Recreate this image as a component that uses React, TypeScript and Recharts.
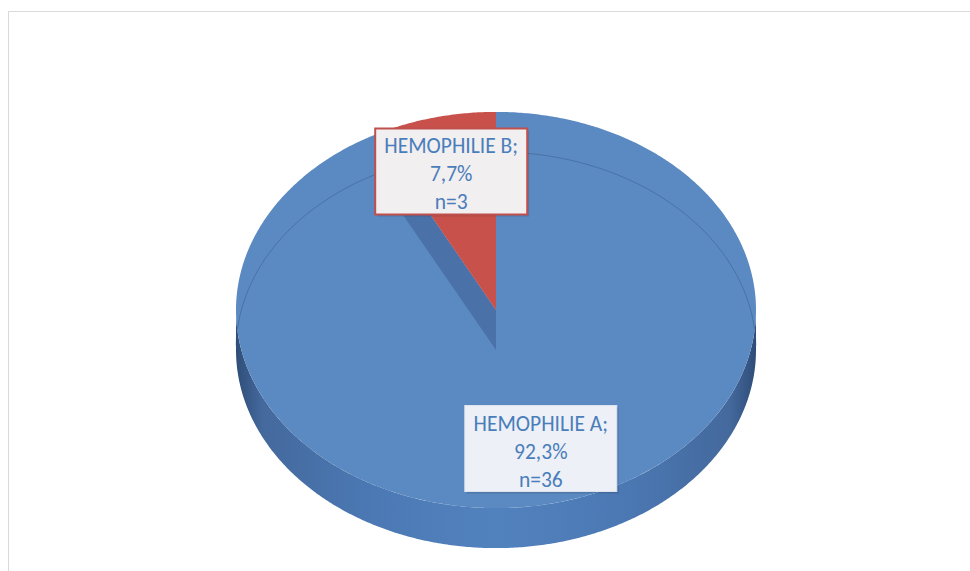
import React from "react";
import { PieChart, Pie, Cell, Tooltip } from "recharts";

// patients per haemophilia type
const categories = ["HEMOPHILIE A", "HEMOPHILIE B"];
const patients = [36, 3];

const TOP_COLORS = ["#5b89c1", "#c8524b"];
const BOX_FILL = ["#edf0f6", "#f2eff1"];
const BOX_STROKE = ["#dce3ee", "#c0504d"];
const TEXT_COLOR = "#4a7ebb";

const data = categories.map((name, i) => ({ name, value: patients[i] }));

// fake 3d: squash the circle into an ellipse and give it some depth
const TILT = 0.762;
const DEPTH = 40;
const RAD = Math.PI / 180;

function pt(cx: number, cy: number, rx: number, ry: number, deg: number) {
  return [cx + rx * Math.cos(deg * RAD), cy - ry * Math.sin(deg * RAD)];
}

function arc(cx: number, cy: number, rx: number, ry: number, a0: number, a1: number) {
  const n = Math.max(2, Math.ceil(Math.abs(a1 - a0) / 0.5));
  const out: number[][] = [];
  for (let k = 0; k <= n; k++) out.push(pt(cx, cy, rx, ry, a0 + ((a1 - a0) * k) / n));
  return out;
}

const poly = (pts: number[][], close = true) =>
  "M" + pts.map((p) => p[0].toFixed(2) + "," + p[1].toFixed(2)).join("L") + (close ? "Z" : "");

// split the sector's angle range into runs where test() holds
function runs(lo: number, hi: number, test: (a: number) => boolean) {
  const res: number[][] = [];
  let cur: number[] | null = null;
  for (let a = lo; a < hi + 0.25; a += 0.5) {
    const aa = Math.min(a, hi);
    if (test(aa)) {
      if (!cur) {
        cur = [aa, aa];
        res.push(cur);
      }
      cur[1] = aa;
    } else cur = null;
  }
  return res;
}

function EllipseSector(props: any) {
  const { cx, cy, outerRadius, startAngle, endAngle, fill } = props;
  const rx = outerRadius;
  const ry = outerRadius * TILT;
  const lo = Math.min(startAngle, endAngle);
  const hi = Math.max(startAngle, endAngle);

  const top = poly([[cx, cy], ...arc(cx, cy, rx, ry, startAngle, endAngle)]);

  // outer wall, only the front half shows
  const walls = runs(lo, hi, (a) => Math.sin(a * RAD) <= 0.0001).map(([a0, a1]) => {
    const upper = arc(cx, cy, rx, ry, a0, a1);
    const lower = arc(cx, cy + DEPTH, rx, ry, a1, a0);
    return poly([...upper, ...lower]);
  });

  // back rim seen through the top
  const rims = runs(lo, hi, (a) => Math.sin(a * RAD) > 0.02).map(([a0, a1]) =>
    poly(arc(cx, cy + DEPTH, rx, ry, a0, a1), false)
  );

  // radial wall at the start edge when it faces us
  const s = startAngle * RAD;
  let cut: string | null = null;
  if (Math.cos(s) < -0.05 && Math.sin(s) > 0) {
    const p = pt(cx, cy, rx, ry, startAngle);
    cut = poly([
      [cx, cy],
      p,
      [p[0], p[1] + DEPTH],
      [cx, cy + DEPTH],
    ]);
  }

  return (
    <g>
      <defs>
        <linearGradient id="pieSide" gradientUnits="userSpaceOnUse" x1={cx - rx} y1={0} x2={cx + rx} y2={0}>
          <stop offset="0%" stopColor="#2f4d78" />
          <stop offset="5%" stopColor="#44699d" />
          <stop offset="25%" stopColor="#4b78b3" />
          <stop offset="50%" stopColor="#5282be" />
          <stop offset="75%" stopColor="#4b78b3" />
          <stop offset="95%" stopColor="#44699d" />
          <stop offset="100%" stopColor="#2f4d78" />
        </linearGradient>
      </defs>
      {walls.map((d, i) => (
        <path key={"w" + i} d={d} fill="url(#pieSide)" />
      ))}
      {cut && <path d={cut} fill="#4a72a8" />}
      <path d={top} fill={fill} />
      {rims.map((d, i) => (
        <path key={"r" + i} d={d} fill="none" stroke="#2d4f7c" strokeOpacity={0.4} strokeWidth={1} />
      ))}
    </g>
  );
}

function renderLabel(props: any) {
  const { cx, cy, midAngle, outerRadius, name, value, percent, index } = props;
  const f = 0.72;
  const [x, y] = pt(cx, cy, outerRadius * f, outerRadius * f * TILT, midAngle);
  const w = 152;
  const h = 86;
  const pct = (percent * 100).toFixed(1).replace(".", ",") + "%";
  const lines = [name + ";", pct, "n=" + value];
  return (
    <g>
      <rect x={x - w / 2 + 2} y={y - h / 2 + 2} width={w} height={h} fill="#000" opacity={0.12} />
      <rect
        x={x - w / 2}
        y={y - h / 2}
        width={w}
        height={h}
        fill={BOX_FILL[index]}
        stroke={BOX_STROKE[index]}
        strokeWidth={index === 1 ? 2 : 1}
      />
      {lines.map((t, i) => (
        <text
          key={i}
          x={x}
          y={y - 25 + i * 28}
          textAnchor="middle"
          dominantBaseline="central"
          fill={TEXT_COLOR}
          fontSize={21.5}
          fontFamily="Carlito, Calibri, Lato, sans-serif"
        >
          {t}
        </text>
      ))}
    </g>
  );
}

export default function App() {
  return (
    <div
      style={{
        position: "absolute",
        left: 0,
        top: 0,
        width: 970,
        height: 571,
        overflow: "hidden",
        background: "#fff",
      }}
    >
      <div
        style={{
          position: "absolute",
          left: 8,
          top: 11,
          width: 1000,
          height: 600,
          border: "1px solid #d9d9d9",
        }}
      />
      <div style={{ position: "absolute", left: 0, top: 0 }}>
        <PieChart width={970} height={571} margin={{ top: 0, right: 0, bottom: 0, left: 0 }}>
          <Pie
            data={data}
            dataKey="value"
            nameKey="name"
            cx={496}
            cy={310}
            outerRadius={260}
            startAngle={90}
            endAngle={-270}
            stroke="none"
            shape={EllipseSector}
            activeShape={EllipseSector}
            inactiveShape={EllipseSector}
            label={renderLabel}
            labelLine={false}
            isAnimationActive={false}
          >
            {data.map((d, i) => (
              <Cell key={d.name} fill={TOP_COLORS[i]} />
            ))}
          </Pie>
          <Tooltip defaultIndex={0} content={() => null} cursor={false} isAnimationActive={false} />
        </PieChart>
      </div>
    </div>
  );
}
